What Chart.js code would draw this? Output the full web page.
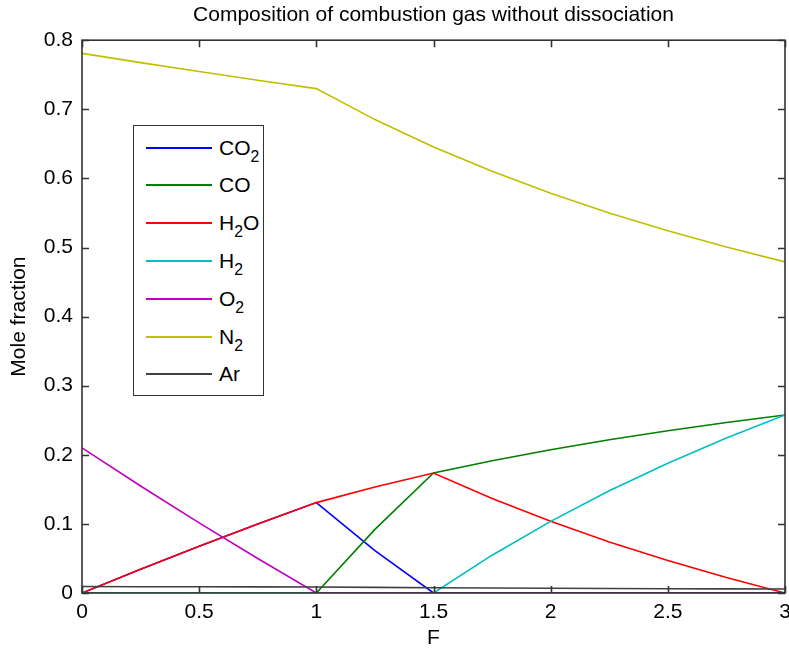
<!DOCTYPE html>
<html>
<head>
<meta charset="utf-8">
<title>Composition of combustion gas without dissociation</title>
<script src="https://cdn.jsdelivr.net/npm/chart.js@4.4.1/dist/chart.umd.min.js"></script>
<style>
    body { margin: 0; background: #fff; }
    #wrap { position: relative; width: 789px; height: 649px; }
    #legend {
        position: absolute; left: 133px; top: 125px;
        width: 129px; height: 269px;
        border: 1.5px solid #333; background: #fff;
        font-family: "Liberation Sans", Arial, sans-serif; font-size: 21px; color: #000;
    }
    .item { position: absolute; left: 0; height: 0; }
    .swatch { position: absolute; left: 12px; width: 66px; top: -1px; height: 0; border-top: 2px solid; }
    .lbl { position: absolute; left: 85px; top: -12px; line-height: 24px; white-space: nowrap; }
    .lbl sub { font-size: 75%; vertical-align: -0.45em; line-height: 0; }
</style>
</head>
<body>
<div id="wrap">
    <canvas id="gasChart" width="789" height="649"></canvas>
    <div id="legend"></div>
</div>
<script>
// === DONNÉES ===
const equivRatio = [0, 0.25, 0.5, 0.75, 1, 1.25, 1.5, 1.75, 2, 2.25, 2.5, 2.75, 3];

const species = ['CO2', 'CO', 'H2O', 'H2', 'O2', 'N2', 'Ar'];
const colors = ['#0000ff', '#008000', '#ff0000', '#00bfbf', '#bf00bf', '#bfbf00', '#404040'];

const co2 = [0, 0.0344, 0.0676, 0.0998, 0.1308, 0.0614, 0, 0, 0, 0, 0, 0, 0];
const co  = [0, 0, 0, 0, 0, 0.0921, 0.1736, 0.1914, 0.2074, 0.2218, 0.2349, 0.2468, 0.2577];
const h2o = [0, 0.0344, 0.0676, 0.0998, 0.1308, 0.1535, 0.1736, 0.1367, 0.1037, 0.0739, 0.0470, 0.0224, 0];
const h2  = [0, 0, 0, 0, 0, 0, 0, 0.0547, 0.1037, 0.1479, 0.1879, 0.2244, 0.2577];
const o2  = [0.21, 0.1548, 0.1014, 0.0499, 0, 0, 0, 0, 0, 0, 0, 0, 0];
const n2  = [0.781, 0.7676, 0.7546, 0.7420, 0.7299, 0.6851, 0.6454, 0.6102, 0.5785, 0.5500, 0.5242, 0.5006, 0.4791];
const ar  = [0.0093, 0.0091, 0.0090, 0.0088, 0.0087, 0.0082, 0.0077, 0.0073, 0.0069, 0.0066, 0.0062, 0.0060, 0.0057];

const seriesValues = [co2, co, h2o, h2, o2, n2, ar];

const xTicks = { min: 0, max: 3, step: 0.5 };
const yTicks = { min: 0, max: 0.8, step: 0.1 };

const FONT = '"Liberation Sans", Arial, sans-serif';

// === CADRE STYLE MATLAB (ticks vers l'intérieur) ===
const framePlugin = {
    id: 'frame',
    afterDatasetsDraw(chart) {
        const { ctx, chartArea: a, scales: { x, y } } = chart;
        const len = 7;
        ctx.save();
        ctx.strokeStyle = '#333';
        ctx.lineWidth = 1.6;
        ctx.strokeRect(a.left, a.top, a.right - a.left, a.bottom - a.top);
        ctx.beginPath();
        x.ticks.forEach(t => {
            const px = Math.round(x.getPixelForValue(t.value)) + 0.5;
            ctx.moveTo(px, a.bottom); ctx.lineTo(px, a.bottom - len);
            ctx.moveTo(px, a.top); ctx.lineTo(px, a.top + len);
        });
        y.ticks.forEach(t => {
            const py = Math.round(y.getPixelForValue(t.value)) + 0.5;
            ctx.moveTo(a.left, py); ctx.lineTo(a.left + len, py);
            ctx.moveTo(a.right, py); ctx.lineTo(a.right - len, py);
        });
        ctx.stroke();
        ctx.restore();
    }
};

// === GRAPHIQUE ===
const datasets = species.map((name, i) => ({
    label: name,
    data: equivRatio.map((f, j) => ({ x: f, y: seriesValues[i][j] })),
    borderColor: colors[i],
    backgroundColor: colors[i],
    borderWidth: 1.6,
    pointRadius: 0,
    tension: 0,
    fill: false,
    order: species.length - i
}));

const chart = new Chart(document.getElementById('gasChart'), {
    type: 'line',
    data: { datasets: datasets },
    options: {
        responsive: false,
        animation: false,
        devicePixelRatio: 1,
        layout: { padding: { left: 0, right: 4, top: 0, bottom: 0 } },
        plugins: {
            legend: { display: false },
            tooltip: { enabled: false },
            title: {
                display: true,
                fullSize: false,
                text: 'Composition of combustion gas without dissociation',
                color: '#000',
                font: { family: FONT, size: 21, weight: 'normal', lineHeight: 1.2 },
                padding: { top: 3, bottom: 12 }
            }
        },
        scales: {
            x: {
                type: 'linear',
                min: xTicks.min,
                max: xTicks.max,
                grid: { display: false, drawTicks: false },
                border: { display: false },
                ticks: {
                    stepSize: xTicks.step,
                    color: '#000',
                    padding: 7,
                    maxRotation: 0,
                    font: { family: FONT, size: 21 },
                    callback: value => String(value)
                },
                title: {
                    display: true,
                    text: 'F',
                    color: '#000',
                    font: { family: FONT, size: 21, lineHeight: 1 },
                    padding: { top: 0, bottom: 0 }
                },
                afterFit(scale) {
                    scale.height = 56;
                    scale.paddingLeft = 0;
                    scale.paddingRight = 0;
                }
            },
            y: {
                min: yTicks.min,
                max: yTicks.max,
                grid: { display: false, drawTicks: false },
                border: { display: false },
                ticks: {
                    stepSize: yTicks.step,
                    color: '#000',
                    padding: 9,
                    font: { family: FONT, size: 21 },
                    callback: value => String(Math.round(value * 10) / 10)
                },
                title: {
                    display: true,
                    text: 'Mole fraction',
                    color: '#000',
                    font: { family: FONT, size: 21, lineHeight: 1.2 },
                    padding: { top: 6.5, bottom: 0 }
                },
                afterFit(scale) {
                    scale.width = 82;
                    scale.paddingTop = 0;
                    scale.paddingBottom = 0;
                }
            }
        }
    },
    plugins: [framePlugin]
});

// === LÉGENDE HTML (indices en <sub>) ===
function buildLegend() {
    const box = document.getElementById('legend');
    box.innerHTML = '';
    chart.data.datasets.forEach((ds, i) => {
        const item = document.createElement('div');
        item.className = 'item';
        item.style.top = (21.5 + i * 37.8) + 'px';

        const sw = document.createElement('div');
        sw.className = 'swatch';
        sw.style.borderTopColor = ds.borderColor;

        const lbl = document.createElement('div');
        lbl.className = 'lbl';
        lbl.innerHTML = ds.label.replace(/(\d)/g, '<sub>$1</sub>');

        item.appendChild(sw);
        item.appendChild(lbl);
        box.appendChild(item);
    });
}
buildLegend();
</script>
</body>
</html>
